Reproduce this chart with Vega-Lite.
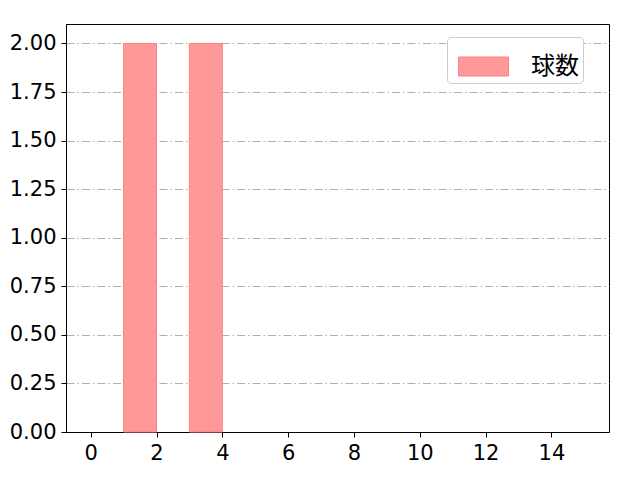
{
  "$schema": "https://vega.github.io/schema/vega-lite/v6.json",
  "width": 543,
  "height": 408,
  "autosize": {"type": "none"},
  "padding": {"left": 66, "top": 24, "right": 31, "bottom": 48},
  "background": "white",
  "data": {
    "values": [
      {"bin_start": 1, "bin_end": 2, "count": 2, "series": "球数"},
      {"bin_start": 3, "bin_end": 4, "count": 2, "series": "球数"}
    ]
  },
  "mark": {"type": "bar", "stroke": "#ff8080", "strokeWidth": 1, "opacity": 1},
  "encoding": {
    "x": {
      "field": "bin_start",
      "type": "quantitative",
      "scale": {"domain": [-0.75, 15.75], "nice": false, "zero": false},
      "axis": {"values": [0, 2, 4, 6, 8, 10, 12, 14], "title": null, "grid": false, "format": "d"}
    },
    "x2": {"field": "bin_end"},
    "y": {
      "field": "count",
      "type": "quantitative",
      "scale": {"domain": [0, 2.1], "nice": false},
      "axis": {
        "values": [0, 0.25, 0.5, 0.75, 1, 1.25, 1.5, 1.75, 2],
        "format": ".2f",
        "title": null,
        "grid": true,
        "gridColor": "#b0b0b0",
        "gridDash": [8, 3, 1.5, 3],
        "gridWidth": 1
      }
    },
    "y2": {"datum": 0},
    "color": {
      "field": "series",
      "type": "nominal",
      "scale": {"range": ["#ff9999"]},
      "legend": {
        "title": null,
        "orient": "none",
        "legendX": 381,
        "legendY": 13,
        "symbolType": "M-1,-0.38L1,-0.38L1,0.38L-1,0.38Z",
        "symbolSize": 2500,
        "symbolOffset": 7,
        "symbolStrokeColor": "#ff8080",
        "symbolStrokeWidth": 1,
        "labelFontSize": 24,
        "labelOffset": 22,
        "labelFont": "Noto Sans CJK JP",
        "labelColor": "#000",
        "padding": 4,
        "rowPadding": 0,
        "strokeColor": "#cccccc",
        "cornerRadius": 4,
        "fillColor": "white"
      }
    }
  },
  "config": {
    "view": {"stroke": "#000", "strokeWidth": 1},
    "axis": {
      "labelFont": "DejaVu Sans",
      "labelFontSize": 21,
      "labelColor": "#000",
      "domainColor": "#000",
      "tickColor": "#000",
      "tickSize": 5,
      "labelPadding": 5
    }
  }
}
